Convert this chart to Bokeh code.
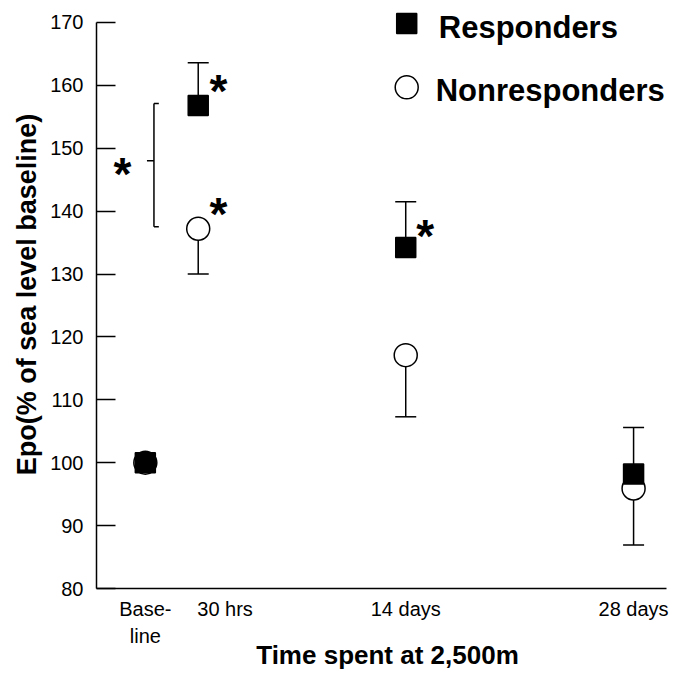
from bokeh.plotting import figure
from bokeh.models import ColumnDataSource, Whisker, TeeHead, FixedTicker, Range1d
from bokeh.embed import file_html
from bokeh.resources import INLINE
from bokeh.core.properties import value

# ---- data (x in days at altitude; baseline drawn before arrival) ----
times = [-2, 1.25, 14, 28]
tick_pos = [-2, 2.9, 14, 28]
tick_labels = ["Base-\nline", "30 hrs", "14 days", "28 days"]
y_ticks = [80, 90, 100, 110, 120, 130, 140, 150, 160, 170]

resp_mean = [100, 156.8, 134.2, 98.2]
resp_upper = [100, 163.6, 141.5, 105.6]
nonresp_mean = [100, 137.2, 117.1, 95.9]
nonresp_lower = [100, 130.0, 107.3, 86.9]

# significance annotations
star_x = [2.5, 2.5, 15.2, -3.4]
star_y = [160.0, 140.5, 137.0, 146.8]
bracket_x0 = [-1.47, -1.47, -1.47, -1.90]
bracket_x1 = [-1.47, -1.17, -1.17, -1.47]
bracket_y0 = [157.1, 157.1, 137.5, 148.0]
bracket_y1 = [137.5, 157.1, 137.5, 148.0]

legend_labels = ["Responders", "Nonresponders"]

FONT = "Liberation Sans"

p = figure(width=678, height=673,
           x_range=Range1d(-5, 30.76), y_range=Range1d(80, 173.49),
           output_backend="svg", toolbar_location=None,
           min_border_left=96, min_border_right=0, min_border_top=0,
           min_border_bottom=84)
p.outline_line_color = None
p.xgrid.visible = False
p.ygrid.visible = False
p.background_fill_color = "white"
p.border_fill_color = "white"

# axes
xa = p.xaxis[0]
xa.bounds = (-5, 30)
xa.ticker = FixedTicker(ticks=tick_pos)
xa.major_label_overrides = {t: l for t, l in zip(tick_pos, tick_labels)}
xa.major_tick_line_color = None
xa.major_tick_out = 0
xa.major_tick_in = 0
xa.minor_tick_line_color = None
xa.axis_line_width = 1.5
xa.axis_line_color = "black"
xa.major_label_text_font = FONT
xa.major_label_text_font_size = "20px"
xa.major_label_text_color = "black"
xa.major_label_text_line_height = 1.25
xa.major_label_standoff = 9
xa.axis_label = "Time spent at 2,500m"
xa.axis_label_text_font = FONT
xa.axis_label_text_font_style = "bold"
xa.axis_label_text_font_size = "26px"
xa.axis_label_text_color = "black"
xa.axis_label_standoff = -10

ya = p.yaxis[0]
ya.bounds = (80, 170)
ya.ticker = FixedTicker(ticks=y_ticks)
ya.major_tick_in = 19
ya.major_tick_out = 0
ya.major_tick_line_width = 1.5
ya.major_tick_line_color = "black"
ya.minor_tick_line_color = None
ya.axis_line_width = 1.5
ya.axis_line_color = "black"
ya.major_label_text_font = FONT
ya.major_label_text_font_size = "20px"
ya.major_label_text_color = "black"
ya.major_label_standoff = 13
ya.axis_label = "Epo(% of sea level baseline)"
ya.axis_label_text_font = FONT
ya.axis_label_text_font_style = "bold"
ya.axis_label_text_font_size = "27px"
ya.axis_label_text_color = "black"
ya.axis_label_standoff = 5

# error bars
rsrc = ColumnDataSource(dict(x=times, y=resp_mean, upper=resp_upper))
nsrc = ColumnDataSource(dict(x=times, y=nonresp_mean, lower=nonresp_lower))
p.add_layout(Whisker(source=rsrc, base="x", upper="upper", lower="y",
                     dimension="height", line_width=1.5, line_color="black",
                     upper_head=TeeHead(size=21, line_width=1.5, line_color="black"),
                     lower_head=None))
p.add_layout(Whisker(source=nsrc, base="x", upper="y", lower="lower",
                     dimension="height", line_width=1.5, line_color="black",
                     lower_head=TeeHead(size=21, line_width=1.5, line_color="black"),
                     upper_head=None))

# markers
p.scatter("x", "y", source=nsrc, marker="circle", size=23,
          fill_color="white", line_color="black", line_width=1.5)
p.scatter("x", "y", source=rsrc, marker="square", size=20,
          fill_color="black", line_color="black", line_width=1.5)

# significance bracket and stars
p.segment(x0=bracket_x0, y0=bracket_y0, x1=bracket_x1, y1=bracket_y1,
          line_color="black", line_width=1.5)
p.text(x=star_x, y=star_y, text=["*"] * len(star_x),
       text_font=value(FONT), text_font_style="bold", text_font_size="46px",
       text_align="center", text_baseline="middle", y_offset=6,
       text_color="black")

# legend (drawn manually)
p.scatter(x=[14.06], y=[169.84], marker="square", size=20,
          fill_color="black", line_color="black", line_width=1.5)
p.scatter(x=[14.06], y=[159.68], marker="circle", size=23,
          fill_color="white", line_color="black", line_width=1.5)
p.text(x=[16.03, 15.84], y=[169.2, 159.2], text=legend_labels,
       text_font=value(FONT), text_font_style="bold", text_font_size="31px",
       text_align="left", text_baseline="middle", text_color="black")

open("out.html", "w").write(file_html(p, INLINE))
